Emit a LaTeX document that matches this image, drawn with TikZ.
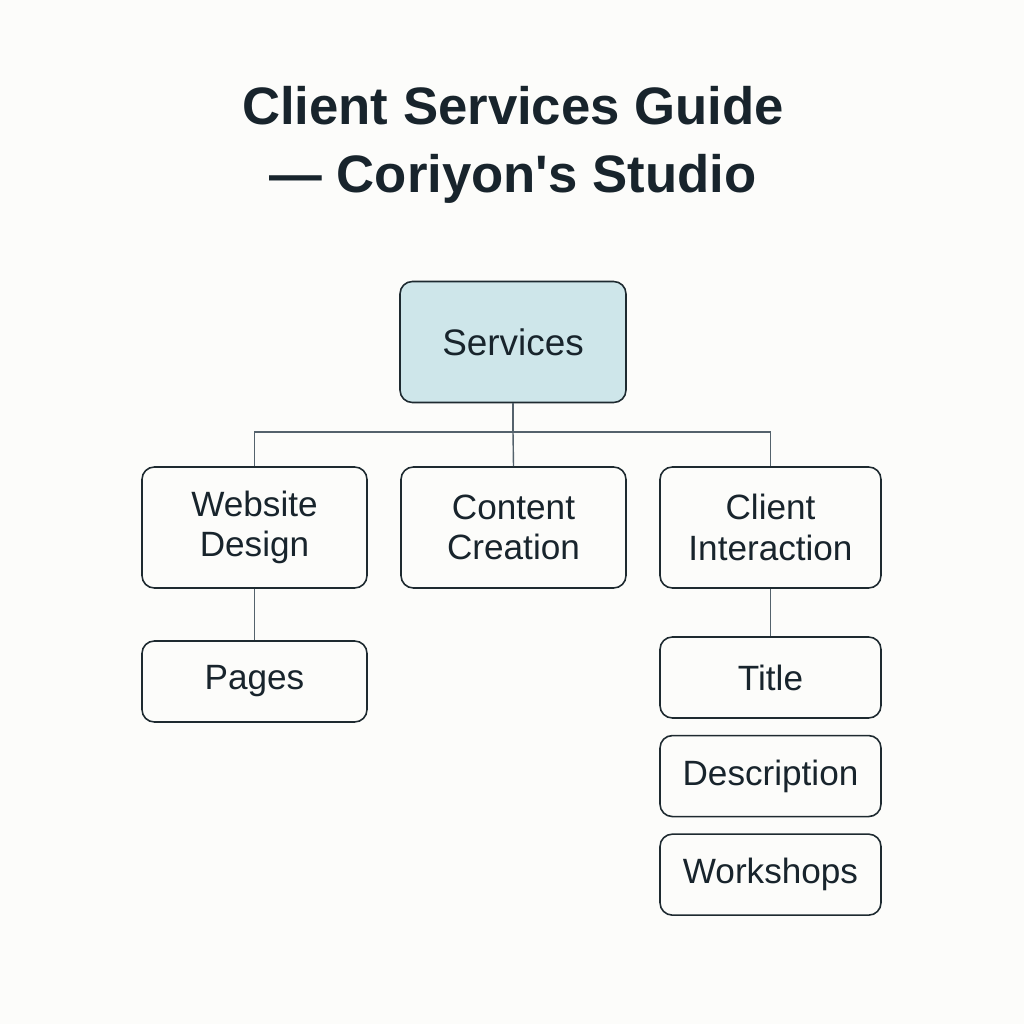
\documentclass[tikz,border=0pt]{standalone}
\usepackage{fontspec}
\setmainfont{Liberation Sans}
\usepackage{tikz}
\usepackage{xcolor}
\usetikzlibrary{positioning}
\definecolor{cPaper}{RGB}{252,252,250}
\definecolor{cInk}{RGB}{24,36,44}
\definecolor{cEdge}{RGB}{30,42,48}
\definecolor{cLink}{RGB}{84,98,108}
\definecolor{cTop}{RGB}{206,230,234}
\tikzset{
	topbox/.style ={rectangle, rounded corners=7pt, draw=cEdge, line width=0.9pt, fill=cTop, minimum width=4.52cm, minimum height=2.42cm, align=center, text=cInk, font=\fontsize{21}{25}\selectfont},
	midbox/.style ={rectangle, rounded corners=7pt, draw=cEdge, line width=0.9pt, fill=cPaper, minimum width=4.5cm, minimum height=2.42cm, align=center, text=cInk, font=\fontsize{20}{23}\selectfont},
	leafbox/.style={midbox, minimum height=1.62cm},
	link/.style   ={draw=cLink, line width=0.8pt},
}
\begin{document}
\begin{tikzpicture}[x=0.02cm, y=-0.02cm]
	\fill[cPaper] (0,0) rectangle (1024,1024);
	\useasboundingbox (0,0) rectangle (1024,1024);
	% title
	\node[text=cInk, align=center, font=\fontsize{30}{39}\bfseries\selectfont] (head) at (513,145) {Client Services Guide\\ --- Coriyon\textquotesingle s Studio\hspace{0.4cm}};
	% tree
	\node[topbox] (serv) at (513,342) {Services};
	\node[midbox] (web) at (254.5,527.5) {Website\\Design};
	\node[midbox] (cont) at (513.5,527.5) {Content\\Creation};
	\node[midbox, minimum width=4.42cm] (inter) at (770.5,527.5) {Client\\Interaction};
	\node[leafbox] (pages) at (254.5,681.5) {Pages};
	\node[leafbox, minimum width=4.42cm] (titl) at (770.5,677.5) {Title};
	\node[leafbox, minimum width=4.42cm, below=0.32cm of titl] (desc) {Description};
	\node[leafbox, minimum width=4.42cm, below=0.32cm of desc] (work) {Workshops};
	\coordinate (jn) at (513,432);
	\draw[link] (serv.south) -- (jn);
	\draw[link] (web.north) |- (jn);
	\draw[link] (inter.north) |- (jn);
	\draw[link] (cont.north) -- (jn);
	\draw[link] (web.south) -- (pages.north);
	\draw[link] (inter.south) -- (titl.north);
\end{tikzpicture}
\end{document}
